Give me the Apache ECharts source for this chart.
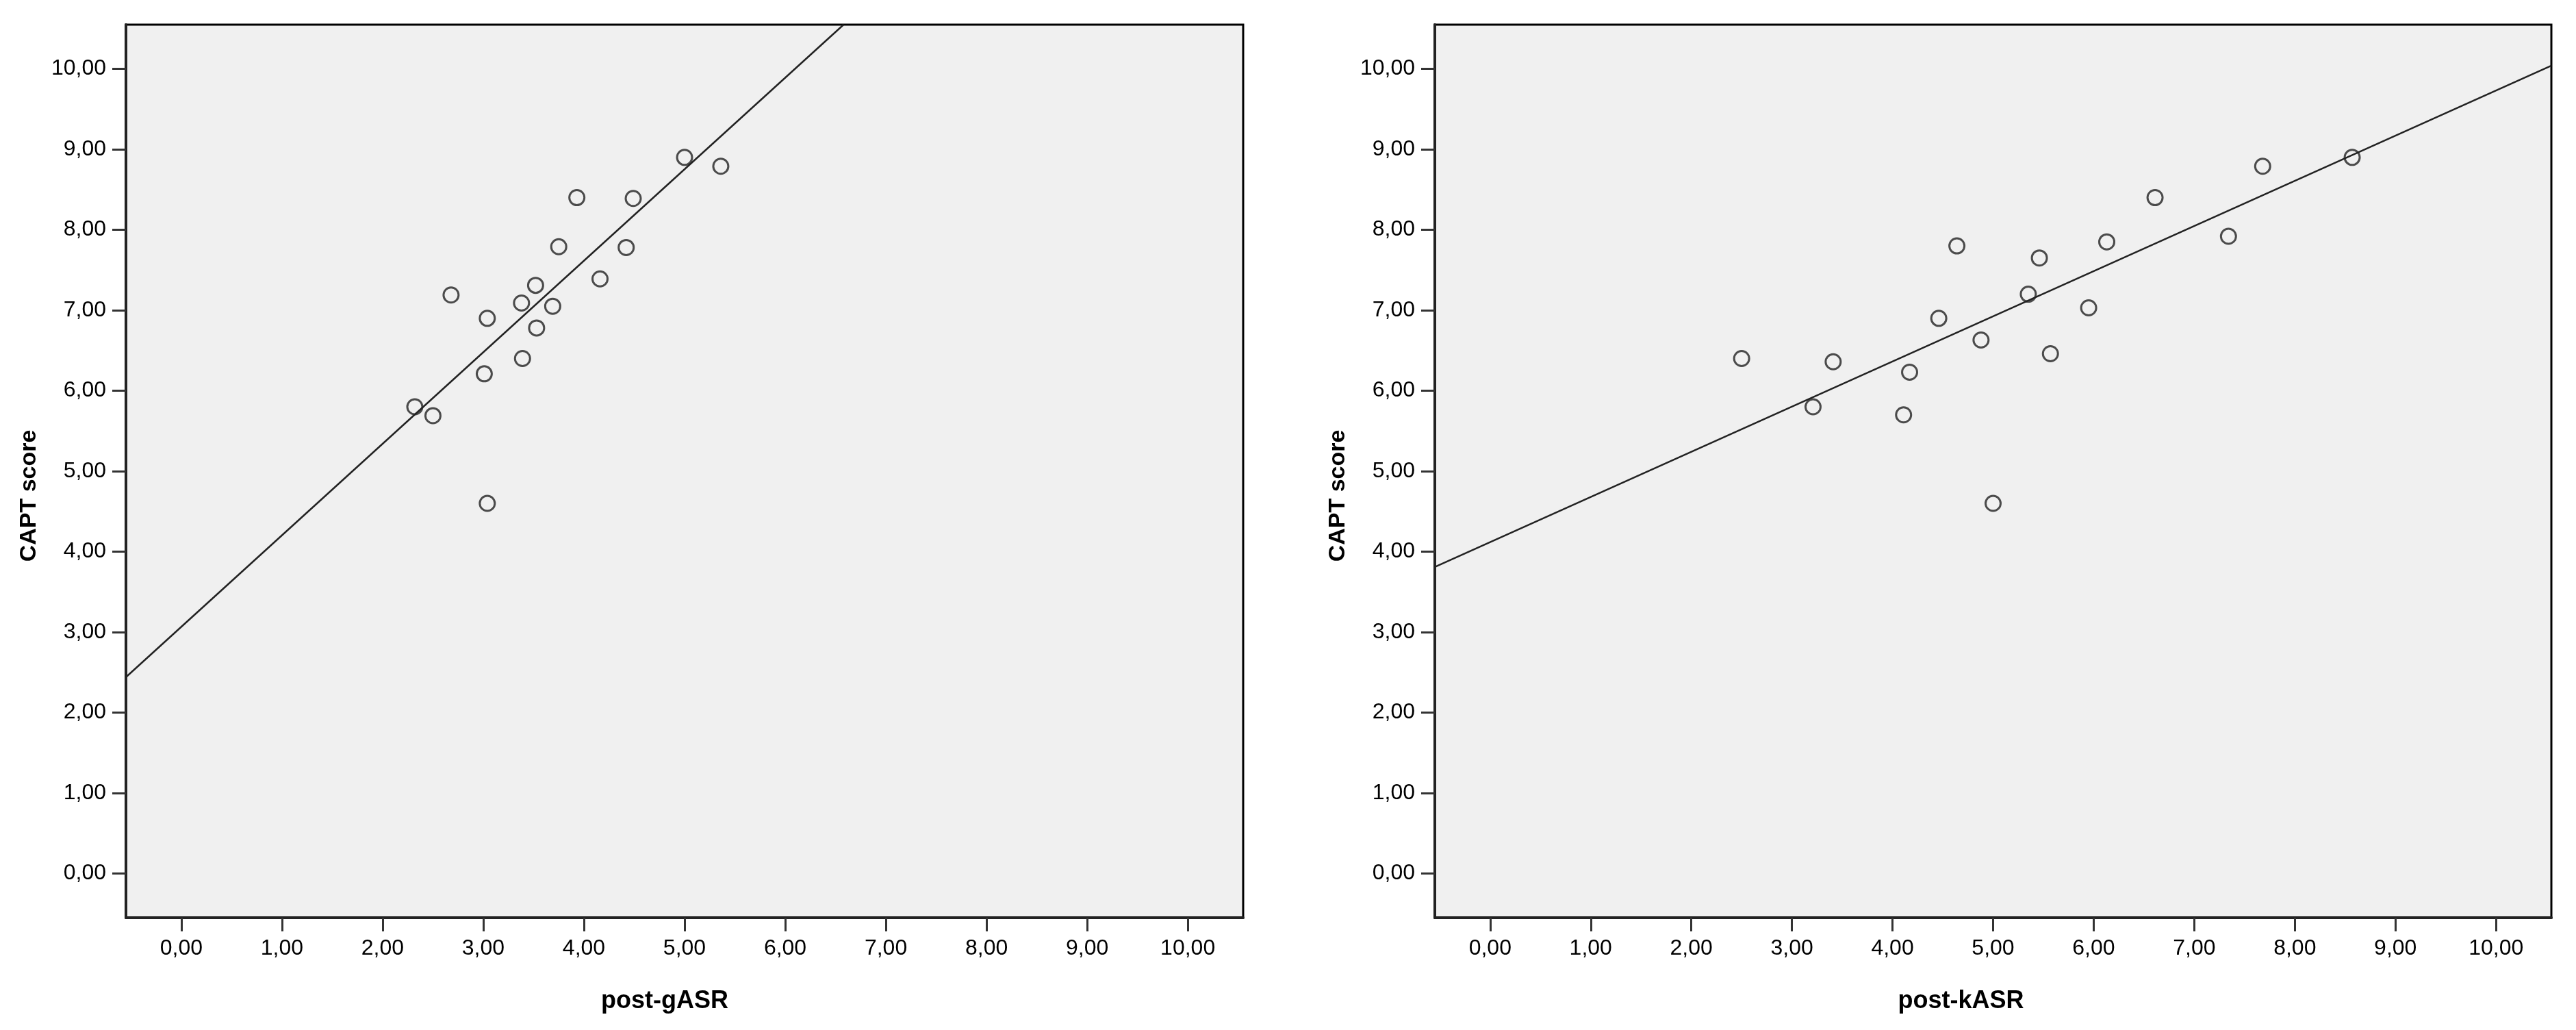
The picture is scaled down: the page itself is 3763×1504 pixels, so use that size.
<!DOCTYPE html>
<html>
<head>
<meta charset="utf-8">
<script src="https://cdn.jsdelivr.net/npm/echarts@6/dist/echarts.min.js"></script>
<style>
  html, body { margin: 0; padding: 0; background: #fff; }
  #chart { width: 3763px; height: 1504px; }
</style>
</head>
<body>
<div id="chart"></div>
<script>
// post-gASR vs CAPT score
const gasrX = [5.00, 5.36, 3.93, 4.49, 3.75, 4.42, 4.16, 3.52, 2.68, 3.38, 3.69, 3.04, 3.53, 3.39, 3.01, 2.32, 2.50, 3.04]
const gasrY = [8.90, 8.79, 8.40, 8.39, 7.79, 7.78, 7.39, 7.31, 7.19, 7.09, 7.05, 6.90, 6.78, 6.40, 6.21, 5.80, 5.69, 4.60]
// post-kASR vs CAPT score
const kasrX = [8.57, 7.68, 6.61, 7.34, 6.13, 4.64, 5.46, 5.35, 5.95, 4.46, 4.88, 2.50, 3.41, 5.57, 4.17, 3.21, 4.11, 5.00]
const kasrY = [8.90, 8.79, 8.40, 7.92, 7.85, 7.80, 7.65, 7.20, 7.03, 6.90, 6.63, 6.40, 6.36, 6.46, 6.23, 5.80, 5.70, 4.60]
// fit lines (end points)
const gasrFit = [[-0.55, 2.44], [6.58, 10.55]]
const kasrFit = [[-0.55, 3.81], [10.55, 10.04]]

const tickValues = [0, 1, 2, 3, 4, 5, 6, 7, 8, 9, 10]
const axisMin = -0.55
const axisMax = 10.55
const xNames = ['post-gASR', 'post-kASR']
const yName = 'CAPT score'

const font = '"Liberation Sans", Arial, sans-serif'
const fmt = (v) => v.toFixed(2).replace('.', ',')

const zip = (xs, ys) => xs.map((x, i) => [x, ys[i]])

function valueAxis(idx, name, isX, shift) {
  return {
    type: 'value',
    gridIndex: idx,
    min: axisMin,
    max: axisMax,
    name: name,
    nameLocation: 'middle',
    nameGap: isX ? 104 : 124,
    nameTextStyle: {
      fontFamily: font,
      fontWeight: 'bold',
      fontSize: isX ? 36 : 34,
      color: '#000',
      padding: [0, shift, 0, 0],
    },
    splitLine: { show: false },
    axisLine: { show: true, onZero: false, lineStyle: { color: '#222', width: 4 } },
    axisTick: {
      show: true,
      length: 20,
      customValues: tickValues,
      lineStyle: { color: '#333', width: 3 },
    },
    axisLabel: {
      margin: 29,
      customValues: tickValues,
      fontFamily: font,
      fontSize: 32,
      color: '#000',
      formatter: fmt,
    },
  }
}

function gridBox(left, width) {
  return {
    left: left,
    top: 36,
    width: width,
    height: 1304,
    show: true,
    backgroundColor: '#f0f0f0',
    borderColor: '#000',
    borderWidth: 3,
  }
}

function scatterSeries(idx, data) {
  return {
    type: 'scatter',
    xAxisIndex: idx,
    yAxisIndex: idx,
    data: data,
    symbol: 'circle',
    symbolSize: 22,
    silent: true,
    itemStyle: { color: 'rgba(0,0,0,0)', borderColor: '#222', borderWidth: 3 },
    emphasis: { disabled: true },
    z: 3,
  }
}

function fitSeries(idx, data) {
  return {
    type: 'line',
    xAxisIndex: idx,
    yAxisIndex: idx,
    data: data,
    showSymbol: false,
    silent: true,
    clip: true,
    lineStyle: { color: '#222', width: 2.5 },
    emphasis: { disabled: true },
    z: 2,
  }
}

let option = {
  animation: false,
  backgroundColor: '#fff',
  grid: [gridBox(184, 1632), gridBox(2096, 1631)],
  xAxis: [valueAxis(0, xNames[0], true, 58), valueAxis(1, xNames[1], true, 94)],
  yAxis: [valueAxis(0, yName, false, 72), valueAxis(1, yName, false, 72)],
  series: [
    fitSeries(0, gasrFit),
    scatterSeries(0, zip(gasrX, gasrY)),
    fitSeries(1, kasrFit),
    scatterSeries(1, zip(kasrX, kasrY)),
  ],
}

const dom = document.getElementById('chart')
const chart = echarts.init(dom)
chart.setOption(option)
</script>
</body>
</html>
